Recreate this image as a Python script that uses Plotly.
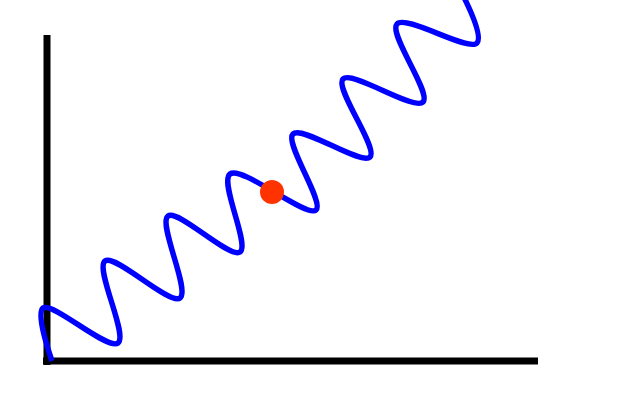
import plotly.graph_objects as go

# Turning points of the wave (pixel-like data units, y grows downward)
wave_x = [52, 43, 118, 105, 180, 168, 240, 230, 316, 293, 370, 343, 423, 397, 477, 455]
wave_y = [361, 308, 343, 261, 298, 216, 252, 174, 210, 134, 157, 79, 102, 24, 43, -20]

# Marked point
dot_x = [272]
dot_y = [192]

# Axis lines (data units)
x_axis_start = [43, 361]
x_axis_end = [538, 361]
y_axis_start = [47, 365]
y_axis_end = [47, 35]

fig = go.Figure()

fig.add_trace(go.Scatter(
    x=wave_x, y=wave_y, mode="lines",
    line=dict(color="#0000ff", width=5.5, shape="spline", smoothing=1.0),
    hoverinfo="skip",
))
fig.add_trace(go.Scatter(
    x=dot_x, y=dot_y, mode="markers",
    marker=dict(color="#ff3300", size=24, line=dict(width=0)),
    hoverinfo="skip",
))

fig.add_shape(type="line", x0=x_axis_start[0], y0=x_axis_start[1], x1=x_axis_end[0], y1=x_axis_end[1],
              line=dict(color="black", width=7), layer="below")
fig.add_shape(type="line", x0=y_axis_start[0], y0=y_axis_start[1], x1=y_axis_end[0], y1=y_axis_end[1],
              line=dict(color="black", width=7), layer="below")

fig.update_layout(
    width=640, height=400,
    margin=dict(l=0, r=0, t=0, b=0),
    paper_bgcolor="white", plot_bgcolor="white",
    showlegend=False,
    xaxis=dict(range=[0, 640], visible=False, fixedrange=True),
    yaxis=dict(range=[400, 0], visible=False, fixedrange=True),
)

fig.write_html("out.html", config={"displayModeBar": False},
               post_script="document.body.style.margin='0';document.body.style.overflow='hidden';")
